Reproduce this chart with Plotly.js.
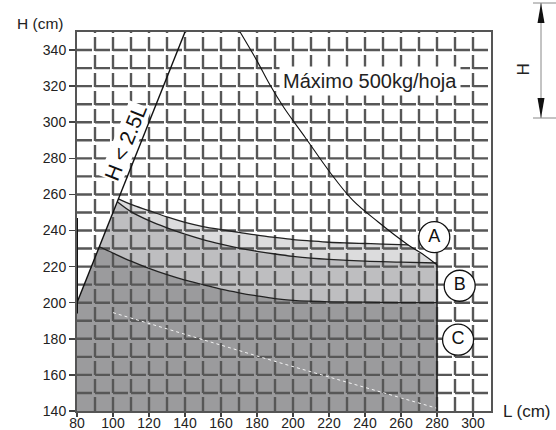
<!DOCTYPE html>
<html>
<head>
<meta charset="utf-8">
<script src="https://cdn.plot.ly/plotly-3.0.1.min.js"></script>
<style>html,body{margin:0;padding:0;background:#fff;}#chart{width:556px;height:430px;}</style>
</head>
<body>
<div id="chart"></div>
<script>
// ---- data ----
const xTicks = [80, 100, 120, 140, 160, 180, 200, 220, 240, 260, 280, 300];
const yTicks = [140, 160, 180, 200, 220, 240, 260, 280, 300, 320, 340];
const gridL = [90,100,110,120,130,140,150,160,170,180,190,200,210,220,230,240,250,260,270,280,290,300];
const gridH = [150,160,170,180,190,200,210,220,230,240,250,260,270,280,290,300,310,320,330,340];

// H < 2.5L limit line
const L_lim = [80, 140];
const H_lim = [200, 350];

// weight limit curve (Máximo 500kg/hoja)
const L_W = [170.6, 180, 187, 195, 206.7, 220, 233, 247, 264, 272, 280];
const H_W = [350, 334, 321, 308, 291.7, 273, 257, 245, 232, 227, 221];

// top of zone A (light)
const L_A = [103, 110, 120, 130, 140, 150, 160, 170, 180, 190, 200, 210, 220, 230, 240, 250, 264];
const H_A = [257.5, 254.5, 251, 247.5, 244.5, 242.2, 240.5, 239, 237.5, 236.2, 235, 234.2, 233.5, 233.1, 232.8, 232.5, 232];

// top of zone B (medium)
const L_B = [102.4, 110, 120, 130, 140, 150, 160, 170, 180, 190, 200, 210, 220, 240, 260, 280];
const H_B = [256, 250.5, 245.5, 241.5, 238, 235, 232.5, 230.3, 228.5, 227, 225.7, 224.7, 224, 223, 222.5, 222];

// top of zone C (dark)
const L_C = [92.5, 100, 110, 120, 130, 140, 150, 160, 170, 180, 190, 200, 210, 220, 240, 260, 280];
const H_C = [231, 227.5, 223, 219, 215.5, 212.5, 210, 207.5, 205.5, 203.8, 202.3, 201.3, 200.8, 200.5, 200.3, 200.1, 200];

// white dotted line inside zone C
const L_D = [100, 190, 280];
const H_D = [194.5, 167.5, 141.5];

// region bounds
const L_MIN = 80, L_MAX = 280, H_MIN = 140;
const H_corner = 221; // top of right edge

// zone labels
const zoneNames = ['A', 'B', 'C'];
const zoneL = [278.5, 292.6, 291.7];
const zoneH = [236.3, 209.4, 179.5];

// ---- build traces ----
const FONT = 'Liberation Sans, Arial, Helvetica, sans-serif';
const rev = a => a.slice().reverse();

const dark = {
  x: [L_MIN, L_lim[0]].concat(L_C, [L_MAX]),
  y: [H_MIN, H_lim[0]].concat(H_C, [H_MIN]),
  mode: 'lines', fill: 'toself', fillcolor: '#9b9b9d', line: {width: 0}, hoverinfo: 'skip'
};
const medium = {
  x: L_C.concat(rev(L_B)),
  y: H_C.concat(rev(H_B)),
  mode: 'lines', fill: 'toself', fillcolor: '#bebec0', line: {width: 0}, hoverinfo: 'skip'
};
const wTail = L_W.map((l, i) => [l, H_W[i]]).filter(p => p[0] >= L_A[L_A.length - 1]);
const light = {
  x: L_B.concat(rev(wTail.map(p => p[0])), rev(L_A)),
  y: H_B.concat(rev(wTail.map(p => p[1])), rev(H_A)),
  mode: 'lines', fill: 'toself', fillcolor: '#dcdcdd', line: {width: 0}, hoverinfo: 'skip'
};

// decorative grid pattern drawn over the fills
const gx = [], gy = [];
gridL.forEach(l => { gx.push(l, l, null); gy.push(140, 350, null); });
const hx = [], hy = [];
gridH.forEach(h => { hx.push(80, 310, null); hy.push(h, h, null); });
const gridV = {x: gx, y: gy, mode: 'lines', line: {color: '#575757', width: 2.4, dash: '14px,4px'}, hoverinfo: 'skip', connectgaps: false};
const gridHz = {x: hx, y: hy, mode: 'lines', line: {color: '#575757', width: 2.4, dash: '15px,3px'}, hoverinfo: 'skip', connectgaps: false};

const lineA = {x: L_A, y: H_A, mode: 'lines', line: {color: '#222', width: 1.3, shape: 'spline'}, hoverinfo: 'skip'};
const lineB = {x: L_B, y: H_B, mode: 'lines', line: {color: '#222', width: 1.3, shape: 'spline'}, hoverinfo: 'skip'};
const lineC = {x: L_C, y: H_C, mode: 'lines', line: {color: '#222', width: 1.3, shape: 'spline'}, hoverinfo: 'skip'};
const lineLim = {x: L_lim, y: H_lim, mode: 'lines', line: {color: '#111', width: 1.4}, hoverinfo: 'skip'};
const lineW = {x: L_W, y: H_W, mode: 'lines', line: {color: '#111', width: 1.1, shape: 'spline'}, hoverinfo: 'skip'};
const lineR = {x: [L_MAX, L_MAX], y: [H_MIN, H_corner], mode: 'lines', line: {color: '#222', width: 1.6}, hoverinfo: 'skip'};
const lineD = {x: L_D, y: H_D, mode: 'lines', line: {color: '#f4f4f4', width: 1, dash: 'dot'}, hoverinfo: 'skip'};
const leftMark = {x: [80, 80], y: [194, 247], mode: 'lines', line: {color: '#111', width: 2}, hoverinfo: 'skip'};

const labels = {
  x: zoneL, y: zoneH, text: zoneNames, mode: 'markers+text', textposition: 'middle center',
  marker: {size: 31, color: '#fff', line: {color: '#111', width: 1.3}},
  textfont: {family: FONT, size: 18, color: '#111'}, hoverinfo: 'skip', cliponaxis: false
};

const px = p => (p - 77) / 414;
const py = p => (411 - p) / 379;

const layout = {
  width: 556, height: 430,
  margin: {l: 77, r: 65, t: 32, b: 19},
  paper_bgcolor: '#fff', plot_bgcolor: '#fff',
  showlegend: false, hovermode: false,
  font: {family: FONT, color: '#222'},
  xaxis: {range: [80, 310], tickvals: xTicks, ticktext: xTicks.map(String), showgrid: false, zeroline: false,
          ticks: 'outside', ticklen: 4, tickwidth: 1.5, tickcolor: '#444', ticklabelstandoff: -6,
          showline: true, linecolor: '#555', linewidth: 2, mirror: true,
          tickfont: {family: FONT, size: 14, color: '#222'}},
  yaxis: {range: [140, 350], tickvals: yTicks, ticktext: yTicks.map(String), showgrid: false, zeroline: false,
          ticks: 'outside', ticklen: 6, tickwidth: 1.5, tickcolor: '#444',
          showline: true, linecolor: '#555', linewidth: 2, mirror: true,
          tickfont: {family: FONT, size: 14, color: '#222'}},
  annotations: [
    {xref: 'paper', yref: 'paper', x: px(40), y: py(23), text: 'H (cm)', showarrow: false,
     font: {family: FONT, size: 15.5, color: '#222'}, xanchor: 'center', yanchor: 'middle'},
    {xref: 'paper', yref: 'paper', x: px(527), y: py(411), text: 'L (cm)', showarrow: false,
     font: {family: FONT, size: 17, color: '#222'}, xanchor: 'center', yanchor: 'middle'},
    {xref: 'x', yref: 'y', x: 243, y: 323, text: 'Máximo 500kg/hoja', showarrow: false,
     font: {family: FONT, size: 20, color: '#222'}, bgcolor: '#fff', borderpad: 3},
    {xref: 'x', yref: 'y', x: 106.7, y: 289, text: 'H &lt; 2.5L', showarrow: false, textangle: -68,
     font: {family: FONT, size: 21, color: '#111'}, bgcolor: '#fff', borderpad: 0},
    {xref: 'paper', yref: 'paper', x: px(534), y: py(62), text: 'H', showarrow: false, textangle: -90,
     font: {family: FONT, size: 17, color: '#222'}}
  ],
  shapes: [
    {type: 'line', xref: 'paper', yref: 'paper', x0: px(541), x1: px(541), y0: py(3), y1: py(118), line: {color: '#888', width: 1}},
    {type: 'line', xref: 'paper', yref: 'paper', x0: px(533), x1: px(556), y0: py(3), y1: py(3), line: {color: '#888', width: 1}},
    {type: 'line', xref: 'paper', yref: 'paper', x0: px(533), x1: px(556), y0: py(118), y1: py(118), line: {color: '#888', width: 1}},
    {type: 'path', xref: 'paper', yref: 'paper',
     path: `M ${px(541)} ${py(3)} L ${px(544.5)} ${py(23)} L ${px(537.5)} ${py(23)} Z`, fillcolor: '#111', line: {width: 0}},
    {type: 'path', xref: 'paper', yref: 'paper',
     path: `M ${px(541)} ${py(118)} L ${px(544.5)} ${py(98)} L ${px(537.5)} ${py(98)} Z`, fillcolor: '#111', line: {width: 0}}
  ]
};

Plotly.newPlot('chart',
  [dark, medium, light, gridV, gridHz, lineD, lineC, lineB, lineA, lineLim, lineW, lineR, leftMark, labels],
  layout, {displayModeBar: false, staticPlot: true});
</script>
</body>
</html>
